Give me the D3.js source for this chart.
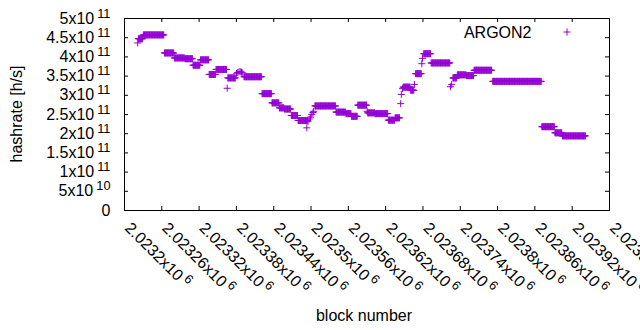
<!DOCTYPE html>
<html>
<head>
<meta charset="utf-8">
<script src="https://cdn.jsdelivr.net/npm/d3@7"></script>
<style>
body { margin: 0; background: #fff; }
text { font-family: "Liberation Sans", Arial, sans-serif; font-size: 16px; fill: #000; }
</style>
</head>
<body>
<svg id="chart" width="640" height="330"></svg>
<script>
// runs of consecutive blocks that share one hashrate [h/s]
var runStart = [2023223, 2023231, 2023265, 2023281, 2023298, 2023311, 2023323, 2023337, 2023348, 2023367,
                2023393, 2023422, 2023438, 2023450, 2023458, 2023469, 2023480, 2023507, 2023541, 2023557,
                2023566, 2023576, 2023592, 2023604, 2023625, 2023636, 2023649, 2023661, 2023669, 2023682,
                2023694, 2023729, 2023736, 2023751, 2023763, 2023793, 2023872, 2023893, 2023905];
var runEnd   = [2023230, 2023264, 2023280, 2023297, 2023310, 2023322, 2023336, 2023347, 2023365, 2023379,
                2023421, 2023437, 2023449, 2023457, 2023468, 2023479, 2023495, 2023540, 2023556, 2023565,
                2023575, 2023590, 2023603, 2023624, 2023635, 2023643, 2023660, 2023666, 2023678, 2023693,
                2023724, 2023735, 2023750, 2023762, 2023791, 2023871, 2023892, 2023904, 2023942];
var runRate  = [4.46e11, 4.56e11, 4.09e11, 3.96e11, 3.94e11, 3.77e11, 3.91e11, 3.53e11, 3.66e11, 3.44e11,
                3.47e11, 3.03e11, 2.79e11, 2.66e11, 2.63e11, 2.46e11, 2.33e11, 2.71e11, 2.55e11, 2.51e11,
                2.44e11, 2.73e11, 2.53e11, 2.51e11, 2.34e11, 2.40e11, 3.20e11, 3.12e11, 3.55e11, 4.07e11,
                3.83e11, 3.44e11, 3.52e11, 3.50e11, 3.64e11, 3.35e11, 2.17e11, 2.01e11, 1.93e11];
// single blocks (outliers and transitions)
var spotBlock = [2023222, 2023366, 2023381, 2023383, 2023385, 2023387, 2023389, 2023391, 2023494, 2023496,
                 2023498, 2023500, 2023502, 2023504, 2023505, 2023591, 2023645, 2023646, 2023648, 2023667,
                 2023679, 2023680, 2023725, 2023727];
var spotRate  = [4.35e11, 3.17e11, 3.56e11, 3.58e11, 3.60e11, 3.60e11, 3.59e11, 3.57e11, 2.14e11, 2.31e11,
                 2.37e11, 2.42e11, 2.49e11, 2.54e11, 2.57e11, 2.57e11, 2.77e11, 3.01e11, 3.16e11, 3.27e11,
                 3.81e11, 3.95e11, 3.21e11, 3.27e11];

var xTicks = [2023200, 2023260, 2023320, 2023380, 2023440, 2023500, 2023560,
              2023620, 2023680, 2023740, 2023800, 2023860, 2023920, 2023980];
var xTickLabels = ["2.0232x10^6", "2.02326x10^6", "2.02332x10^6", "2.02338x10^6", "2.02344x10^6",
                   "2.0235x10^6", "2.02356x10^6", "2.02362x10^6", "2.02368x10^6", "2.02374x10^6",
                   "2.0238x10^6", "2.02386x10^6", "2.02392x10^6", "2.02398x10^6"];
var yTicks = [0, 5e10, 1e11, 1.5e11, 2e11, 2.5e11, 3e11, 3.5e11, 4e11, 4.5e11, 5e11];
var yTickLabels = ["0", "5x10^10", "1x10^11", "1.5x10^11", "2x10^11", "2.5x10^11",
                   "3x10^11", "3.5x10^11", "4x10^11", "4.5x10^11", "5x10^11"];

var color = "#9400d3";
var svg = d3.select("#chart");

var x = d3.scaleLinear().domain([2023200, 2023980]).range([124, 609]);
var y = d3.scaleLinear().domain([0, 5e11]).range([210, 18]);

var points = [];
runStart.forEach(function(s, i) {
    for (var b = s; b <= runEnd[i]; b++) points.push({block: b, rate: runRate[i]});
});
spotBlock.forEach(function(b, i) { points.push({block: b, rate: spotRate[i]}); });

// label with gnuplot style superscript after "^"
function superscript(sel, label, dx, dy) {
    var parts = label.split("^");
    sel.text(null);
    sel.append("tspan").text(parts[0]);
    if (parts.length > 1)
        sel.append("tspan").attr("dx", dx).attr("dy", dy).style("font-size", "12.8px").text(parts[1]);
}

var gx = svg.append("g")
    .attr("transform", "translate(0,210)")
    .call(d3.axisBottom(x).tickValues(xTicks).tickSize(-4).tickSizeOuter(0)
        .tickFormat(function(d, i) { return xTickLabels[i]; }));
gx.select(".domain").remove();
gx.attr("font-size", null).attr("font-family", null);
gx.selectAll("text")
    .attr("x", 0).attr("y", 0).attr("dy", null)
    .attr("text-anchor", "start")
    .attr("transform", "translate(-0.5,19) rotate(45)")
    .each(function(d, i) { superscript(d3.select(this), xTickLabels[i], 3, -6); });

var gy = svg.append("g")
    .attr("transform", "translate(124,0)")
    .call(d3.axisLeft(y).tickValues(yTicks).tickSize(-4).tickSizeOuter(0)
        .tickFormat(function(d, i) { return yTickLabels[i]; }));
gy.select(".domain").remove();
gy.attr("font-size", null).attr("font-family", null);
gy.selectAll("text")
    .attr("x", -13.5)
    .each(function(d, i) { superscript(d3.select(this), yTickLabels[i], 3, -6); });

svg.append("g").attr("transform", "translate(0,18)")
    .call(d3.axisTop(x).tickValues(xTicks).tickSize(-4).tickSizeOuter(0).tickFormat(""))
    .select(".domain").remove();
svg.append("g").attr("transform", "translate(609,0)")
    .call(d3.axisRight(y).tickValues(yTicks).tickSize(-4).tickSizeOuter(0).tickFormat(""))
    .select(".domain").remove();

svg.append("rect")
    .attr("x", 124.5).attr("y", 18.5).attr("width", 485).attr("height", 192)
    .attr("fill", "none").attr("stroke", "#000").attr("stroke-width", 1);

function plus(cx, cy) {
    return "M" + (cx - 3.5) + "," + cy + "h7M" + cx + "," + (cy - 3.5) + "v7";
}

svg.append("g")
    .attr("fill", "none").attr("stroke", color).attr("stroke-width", 1)
  .selectAll("path")
    .data(points)
    .join("path")
    .attr("d", function(d) { return plus(x(d.block), y(d.rate)); });

// key
svg.append("text").attr("x", 531.5).attr("y", 37.5).attr("text-anchor", "end").text("ARGON2");
svg.append("path").attr("d", plus(567, 32)).attr("fill", "none").attr("stroke", color).attr("stroke-width", 1);

svg.append("text")
    .attr("transform", "translate(22,114) rotate(-90)")
    .attr("text-anchor", "middle")
    .text("hashrate [h/s]");
svg.append("text")
    .attr("x", 364).attr("y", 321)
    .attr("text-anchor", "middle")
    .text("block number");
</script>
</body>
</html>
